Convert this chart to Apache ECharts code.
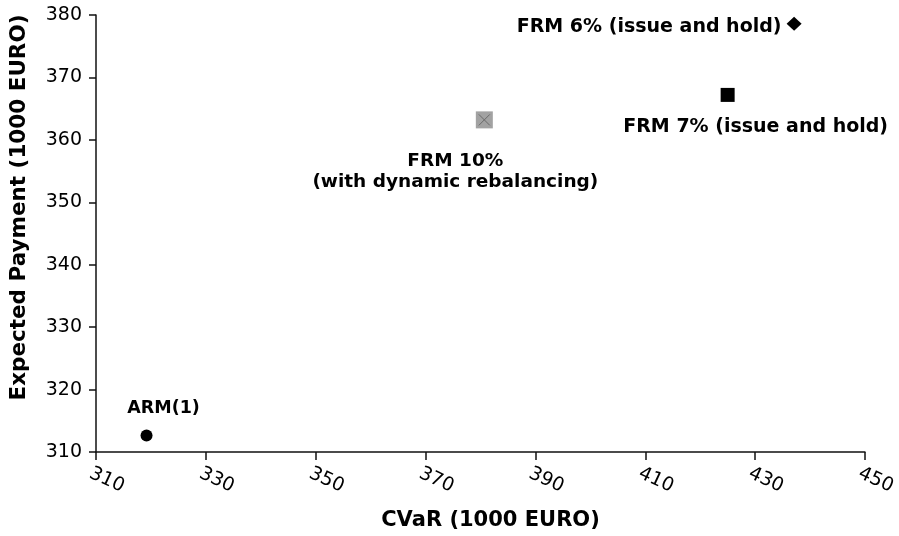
<!DOCTYPE html>
<html><head><meta charset="utf-8">
<script src="https://cdn.jsdelivr.net/npm/echarts@6/dist/echarts.min.js"></script>
<style>html,body{margin:0;padding:0;background:#fff}#c{width:899px;height:536px}</style>
</head><body><div id="c"></div>
<script>
// ---- data ----
const pointNames = ['ARM(1)', 'FRM 10%\n(with dynamic rebalancing)', 'FRM 7% (issue and hold)', 'FRM 6% (issue and hold)'];
const cvarValues = [319.2, 380.7, 425.0, 437.1];            // CVaR (1000 EURO)
const expectedPayments = [312.65, 363.2, 367.2, 378.6];     // Expected Payment (1000 EURO)
const xAxisRange = [310, 450, 20];
const yAxisRange = [310, 380, 10];
const xAxisTitle = 'CVaR (1000 EURO)';
const yAxisTitle = 'Expected Payment (1000 EURO)';

// ---- styles ----
const FONT = "'DejaVu Sans', sans-serif";
const markerStyles = [
  {symbol: 'circle', size: 12, color: '#000'},
  {symbol: 'rect', size: 17, color: '#a2a2a2'},
  {symbol: 'rect', size: 14, color: '#000'},
  {symbol: 'diamond', size: [15, 14], color: '#000'}
];
const labelStyles = [
  {fontSize: 17.5, offset: [17, -27]},
  {fontSize: 18.5, offset: [-29, 52], lineHeight: 21},
  {fontSize: 19, offset: [28, 32]},
  {fontSize: 19, offset: [-145, 3]}
];

const series = pointNames.map((name, i) => ({
  type: 'scatter',
  name: name,
  data: [[cvarValues[i], expectedPayments[i]]],
  symbol: markerStyles[i].symbol,
  symbolSize: markerStyles[i].size,
  itemStyle: {color: markerStyles[i].color, opacity: 1},
  z: 2,
  label: {
    show: true,
    position: 'inside',
    formatter: name,
    offset: labelStyles[i].offset,
    fontFamily: FONT,
    fontWeight: 'bold',
    fontSize: labelStyles[i].fontSize,
    lineHeight: labelStyles[i].lineHeight || labelStyles[i].fontSize * 1.2,
    color: '#000',
    opacity: 1,
    textBorderWidth: 0,
    align: 'center',
    verticalAlign: 'middle'
  }
}));
// the cross drawn on the grey square of FRM 10%
series.push({
  type: 'scatter',
  data: [[cvarValues[1], expectedPayments[1]]],
  symbol: 'path://M0,0 L10,10 M10,0 L0,10',
  symbolSize: 11,
  itemStyle: {color: 'none', borderColor: '#6a6a6a', borderWidth: 1, opacity: 1},
  z: 3,
  label: {show: false}
});

const chart = echarts.init(document.getElementById('c'), null, {renderer: 'canvas'});
chart.setOption({
  animation: false,
  backgroundColor: '#fff',
  grid: {left: 93, right: 34, top: 15, bottom: 83, containLabel: false},
  xAxis: {
    type: 'value',
    min: xAxisRange[0], max: xAxisRange[1], interval: xAxisRange[2],
    name: xAxisTitle,
    nameLocation: 'middle',
    nameGap: 58,
    nameTextStyle: {fontFamily: FONT, fontWeight: 'bold', fontSize: 21, color: '#000', padding: [0, 0, 0, 20]},
    axisLine: {show: true, onZero: false, lineStyle: {color: '#111', width: 1.5}},
    axisTick: {show: true, length: 8, lineStyle: {color: '#111', width: 1.5}},
    axisLabel: {rotate: -25, margin: 23, align: 'center', padding: [0, 0, 0, 24], fontFamily: FONT, fontSize: 19, color: '#000'},
    splitLine: {show: false}
  },
  yAxis: {
    type: 'value',
    min: yAxisRange[0], max: yAxisRange[1], interval: yAxisRange[2],
    name: yAxisTitle,
    nameLocation: 'middle',
    nameGap: 66,
    nameTextStyle: {fontFamily: FONT, fontWeight: 'bold', fontSize: 21.5, color: '#000', padding: [0, 0, 0, 52]},
    axisLine: {show: true, onZero: false, lineStyle: {color: '#111', width: 1.5}},
    axisTick: {show: true, length: 7, lineStyle: {color: '#111', width: 1.5}},
    axisLabel: {margin: 14, fontFamily: FONT, fontSize: 19, color: '#000'},
    splitLine: {show: false}
  },
  series: series
});
</script>
</body></html>
